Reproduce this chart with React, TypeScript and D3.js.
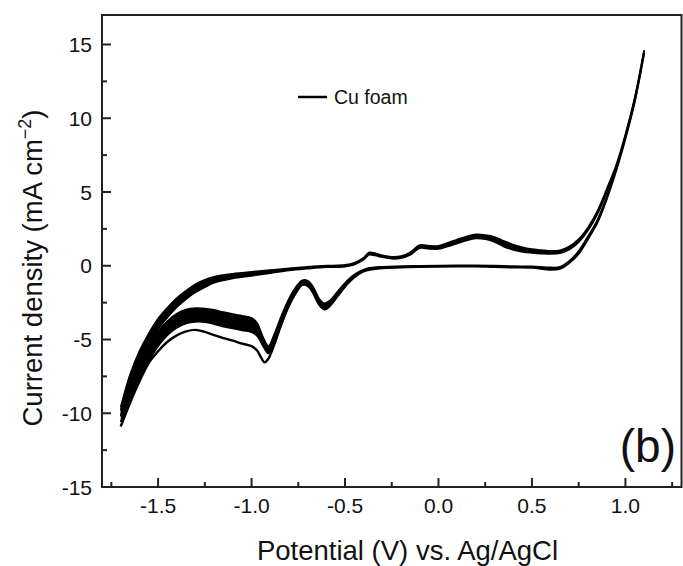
import React from "react";
import * as d3 from "d3";

// Forward (anodic) scan, band of overlapping cycles: upper and lower envelope
const anodicV = [-1.70, -1.65, -1.60, -1.55, -1.50, -1.45, -1.40, -1.35, -1.30, -1.25, -1.20, -1.10, -1.00, -0.90, -0.80, -0.70, -0.60, -0.50, -0.45, -0.40, -0.37, -0.34, -0.30, -0.25, -0.20, -0.15, -0.10, -0.05, 0.00, 0.05, 0.10, 0.15, 0.20, 0.25, 0.30, 0.35, 0.40, 0.45, 0.50, 0.55, 0.60, 0.65, 0.70, 0.75, 0.80, 0.85, 0.90, 0.95, 1.00, 1.05, 1.10];
const anodicIHigh = [-9.6, -7.4, -5.8, -4.6, -3.6, -2.85, -2.2, -1.7, -1.25, -0.95, -0.75, -0.55, -0.42, -0.3, -0.18, -0.08, 0.0, 0.05, 0.2, 0.55, 0.9, 0.85, 0.7, 0.6, 0.65, 0.92, 1.4, 1.35, 1.35, 1.55, 1.78, 1.98, 2.12, 2.08, 1.95, 1.68, 1.42, 1.25, 1.12, 1.06, 1.0, 1.05, 1.3, 1.8, 2.6, 3.7, 5.2, 6.8, 8.9, 11.4, 14.6];
const anodicILow = [-10.2, -8.4, -6.7, -5.4, -4.3, -3.5, -2.8, -2.25, -1.8, -1.45, -1.15, -0.85, -0.68, -0.5, -0.32, -0.2, -0.1, -0.05, 0.08, 0.42, 0.75, 0.7, 0.58, 0.48, 0.52, 0.75, 1.2, 1.15, 1.15, 1.32, 1.52, 1.72, 1.85, 1.8, 1.62, 1.3, 1.08, 0.95, 0.88, 0.83, 0.8, 0.85, 1.1, 1.6, 2.4, 3.5, 5.0, 6.6, 8.7, 11.2, 14.4];

// Reverse (cathodic) scan, band of overlapping cycles
const cathodicV = [1.10, 1.05, 1.00, 0.95, 0.90, 0.85, 0.80, 0.75, 0.70, 0.65, 0.60, 0.50, 0.40, 0.30, 0.20, 0.10, 0.00, -0.10, -0.20, -0.30, -0.38, -0.42, -0.46, -0.50, -0.54, -0.58, -0.61, -0.64, -0.67, -0.70, -0.73, -0.76, -0.80, -0.84, -0.88, -0.91, -0.94, -0.97, -1.00, -1.05, -1.10, -1.15, -1.20, -1.25, -1.30, -1.35, -1.40, -1.45, -1.50, -1.55, -1.60, -1.65, -1.70];
const cathodicIHigh = [14.6, 11.3, 8.8, 6.6, 4.7, 3.1, 2.0, 1.0, 0.32, -0.08, -0.12, -0.05, -0.03, 0.0, 0.02, 0.02, 0.01, -0.01, -0.03, -0.07, -0.18, -0.38, -0.7, -1.18, -1.75, -2.35, -2.55, -2.2, -1.45, -1.02, -1.0, -1.4, -2.25, -3.4, -4.7, -5.45, -4.8, -3.9, -3.55, -3.4, -3.28, -3.15, -3.0, -2.9, -2.88, -2.98, -3.25, -3.75, -4.45, -5.4, -6.5, -7.9, -9.8];
const cathodicILow = [14.4, 11.1, 8.6, 6.4, 4.5, 2.9, 1.8, 0.8, 0.18, -0.22, -0.28, -0.15, -0.13, -0.1, -0.06, -0.06, -0.07, -0.09, -0.13, -0.17, -0.32, -0.52, -0.9, -1.42, -2.05, -2.65, -2.85, -2.5, -1.75, -1.28, -1.3, -1.8, -2.75, -4.0, -5.3, -5.95, -5.4, -4.75, -4.5, -4.38, -4.25, -4.12, -3.95, -3.82, -3.8, -3.9, -4.2, -4.7, -5.45, -6.45, -7.6, -9.0, -10.6];

// First cathodic scan (deeper reduction peaks)
const firstCycleV = [-0.46, -0.50, -0.54, -0.58, -0.61, -0.64, -0.67, -0.70, -0.73, -0.76, -0.80, -0.84, -0.88, -0.91, -0.93, -0.95, -0.97, -1.00, -1.05, -1.10, -1.15, -1.20, -1.25, -1.30, -1.35, -1.40, -1.45, -1.50, -1.55, -1.60, -1.65, -1.70];
const firstCycleI = [-0.85, -1.4, -2.05, -2.7, -2.95, -2.6, -1.85, -1.35, -1.3, -1.75, -2.65, -3.9, -5.4, -6.3, -6.55, -6.2, -5.75, -5.45, -5.28, -5.08, -4.9, -4.7, -4.48, -4.35, -4.45, -4.72, -5.15, -5.8, -6.6, -7.85, -9.3, -10.9];

const xTicks = [-1.5, -1.0, -0.5, 0.0, 0.5, 1.0];
const xTickLabels = ["-1.5", "-1.0", "-0.5", "0.0", "0.5", "1.0"];
const xMinorTicks = [-1.75, -1.25, -0.75, -0.25, 0.25, 0.75, 1.25];
const yTicks = [-15, -10, -5, 0, 5, 10, 15];
const yTickLabels = ["-15", "-10", "-5", "0", "5", "10", "15"];
const yMinorTicks = [-12.5, -7.5, -2.5, 2.5, 7.5, 12.5];
const legendLabel = "Cu foam";
const panelLabel = "(b)";

const W = 683;
const H = 566;
const M = { left: 102, right: 681.5, top: 15, bottom: 487 };
const FONT = "'Liberation Sans', Arial, sans-serif";

export default function App() {
  const x = d3.scaleLinear().domain([-1.8, 1.3]).range([M.left, M.right]);
  const y = d3.scaleLinear().domain([-15, 17]).range([M.bottom, M.top]);
  const curve = d3.curveCatmullRom.alpha(0.5);

  const band = (vs: number[], hi: number[], lo: number[]) => {
    const idx = d3.range(vs.length);
    const area = d3
      .area<number>()
      .x((i) => x(vs[i]))
      .y0((i) => y(hi[i]))
      .y1((i) => y(lo[i]))
      .curve(curve);
    const line = (arr: number[]) =>
      d3
        .line<number>()
        .x((i) => x(vs[i]))
        .y((i) => y(arr[i]))
        .curve(curve)(idx) as string;
    return { area: area(idx) as string, hi: line(hi), lo: line(lo) };
  };

  const an = band(anodicV, anodicIHigh, anodicILow);
  const ca = band(cathodicV, cathodicIHigh, cathodicILow);
  const first = d3
    .line<number>()
    .x((i) => x(firstCycleV[i]))
    .y((i) => y(firstCycleI[i]))
    .curve(curve)(d3.range(firstCycleV.length)) as string;

  return (
    <svg
      width={W}
      height={H}
      style={{ position: "absolute", left: 0, top: 0, background: "#fff" }}
      fontFamily={FONT}
    >
      <defs>
        <clipPath id="plotclip">
          <rect x={M.left} y={M.top} width={M.right - M.left} height={M.bottom - M.top} />
        </clipPath>
      </defs>
      <g clipPath="url(#plotclip)">
        <path d={ca.area} fill="#000" />
        <path d={ca.hi} fill="none" stroke="#000" strokeWidth={1.8} />
        <path d={ca.lo} fill="none" stroke="#000" strokeWidth={1.8} />
        <path d={an.area} fill="#000" />
        <path d={an.hi} fill="none" stroke="#000" strokeWidth={1.8} />
        <path d={an.lo} fill="none" stroke="#000" strokeWidth={1.8} />
        <path d={first} fill="none" stroke="#000" strokeWidth={2.4} />
      </g>

      {/* frame */}
      <rect
        x={M.left}
        y={M.top}
        width={M.right - M.left}
        height={M.bottom - M.top}
        fill="none"
        stroke="#222"
        strokeWidth={2}
      />

      {/* x ticks */}
      {xTicks.map((t, i) => (
        <g key={"xt" + i}>
          <line x1={x(t)} x2={x(t)} y1={M.bottom} y2={M.bottom - 9} stroke="#222" strokeWidth={2} />
          <text x={x(t)} y={513} textAnchor="middle" fontSize={21} fill="#111">
            {xTickLabels[i]}
          </text>
        </g>
      ))}
      {xMinorTicks.map((t, i) => (
        <line key={"xm" + i} x1={x(t)} x2={x(t)} y1={M.bottom} y2={M.bottom - 5} stroke="#222" strokeWidth={2} />
      ))}

      {/* y ticks */}
      {yTicks.map((t, i) => (
        <g key={"yt" + i}>
          <line x1={M.left} x2={M.left + 9} y1={y(t)} y2={y(t)} stroke="#222" strokeWidth={2} />
          <text x={92} y={y(t) + 7.5} textAnchor="end" fontSize={21} fill="#111">
            {yTickLabels[i]}
          </text>
        </g>
      ))}
      {yMinorTicks.map((t, i) => (
        <line key={"ym" + i} x1={M.left} x2={M.left + 5} y1={y(t)} y2={y(t)} stroke="#222" strokeWidth={2} />
      ))}

      {/* axis titles */}
      <text x={407.5} y={560} textAnchor="middle" fontSize={27.5} fill="#111">
        Potential (V) vs. Ag/AgCl
      </text>
      <text transform="translate(42,268) rotate(-90)" textAnchor="middle" fontSize={27.5} fill="#111">
        Current density (mA cm
        <tspan dy={-11} fontSize={18}>−2</tspan>
        <tspan dy={11}>)</tspan>
      </text>

      {/* legend */}
      <line x1={298} x2={327} y1={97} y2={97} stroke="#000" strokeWidth={2.5} />
      <text x={334} y={104} fontSize={19.5} fill="#111">
        {legendLabel}
      </text>

      {/* panel label */}
      <text x={676} y={462} textAnchor="end" fontSize={46} fill="#111">
        {panelLabel}
      </text>
    </svg>
  );
}
